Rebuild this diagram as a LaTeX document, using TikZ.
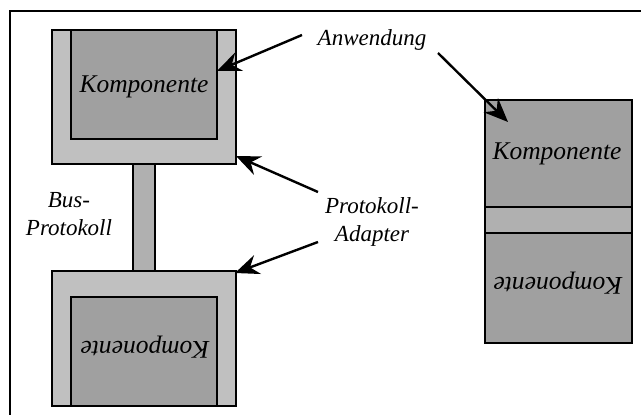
\documentclass[tikz,border=0pt]{standalone}
\usepackage{fontspec}
\setmainfont{Liberation Serif}
\usetikzlibrary{arrows.meta}
\definecolor{adaptgray}{HTML}{C0C0C0}
\definecolor{compgray}{HTML}{A0A0A0}
\definecolor{busgray}{HTML}{B0B0B0}
\tikzset{
  adapter/.style={draw=black, line width=2pt, fill=adaptgray, inner sep=0pt},
  comp/.style={draw=black, line width=2pt, fill=compgray, inner sep=0pt},
  bar/.style={draw=black, line width=2pt, fill=busgray, inner sep=0pt},
  compname/.style={font=\fontsize{25.5}{30}\selectfont\itshape, inner sep=0pt},
  callout/.style={font=\fontsize{23}{27}\selectfont\itshape, align=center, inner sep=0pt},
  pointer/.style={line width=2.4pt, -{Stealth[length=24pt, width=20pt, inset=8pt]}},
}
\begin{document}
\begin{tikzpicture}[x=1pt, y=-1pt]
\useasboundingbox (0,0) rectangle (641,415);
% frame (only its left and top edges fall on the page)
\draw[line width=1.6pt] (10,415) -- (10,11) -- (641,11);

% upper device: adapter with its component
\node[adapter, minimum width=184pt, minimum height=134pt] (ad1) at (144,97) {};
\node[comp, minimum width=146pt, minimum height=109pt] (k1) at (144,84.5) {};
\node[compname] at (144,87) {Komponente};

% bus link
\node[bar, minimum width=22pt, minimum height=107pt] (bus) at (144,217.5) {};

% lower device, mirrored
\node[adapter, minimum width=184pt, minimum height=135pt] (ad2) at (144,338.5) {};
\node[comp, minimum width=146pt, minimum height=109pt] (k2) at (144,351.5) {};
\node[compname, rotate=180] at (145,347) {Komponente};

% right stack: component, adapter layer, mirrored component
\node[comp, minimum width=147pt, minimum height=107pt] (k3) at (558.5,153.5) {};
\node[compname] at (557,154) {Komponente};
\node[bar, minimum width=147pt, minimum height=26pt] (mid) at (558.5,220) {};
\node[comp, minimum width=147pt, minimum height=110pt] (k4) at (558.5,288) {};
\node[compname, rotate=180] at (558,283) {Komponente};

% labels
\node[callout] (anw) at (372,40) {Anwendung};
\node[callout] (pa) at (372,222) {Protokoll-\\[1pt]Adapter};
\node[callout] (bp) at (69,214) {Bus-\\[1pt]Protokoll};

% arrow end points
\coordinate (a1s) at (302,35);
\coordinate (a1e) at (217,71);
\coordinate (a2s) at (438,53);
\coordinate (a2e) at (508,122);
\coordinate (a3s) at (318,192);
\coordinate (a3e) at (236,156);
\coordinate (a4s) at (318,242);
\coordinate (a4e) at (235,273);

\draw[pointer] (a1s) -- (a1e);
\draw[pointer] (a2s) -- (a2e);
\draw[pointer] (a3s) -- (a3e);
\draw[pointer] (a4s) -- (a4e);
\end{tikzpicture}
\end{document}
